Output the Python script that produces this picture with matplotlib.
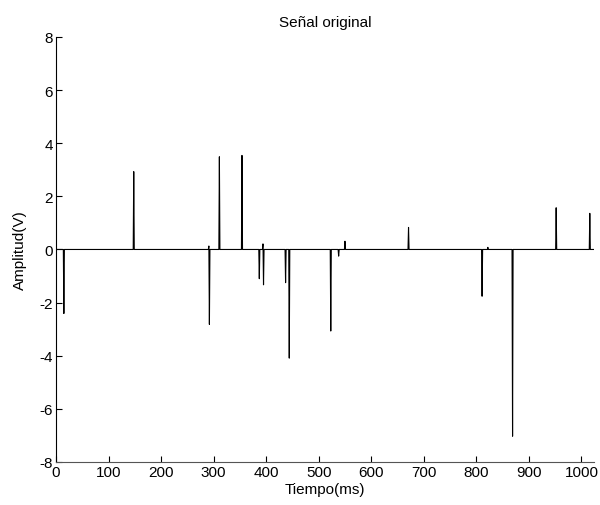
#!/usr/bin/env python3
import numpy as np
import matplotlib.pyplot as plt

plt.rc('font', family=['Liberation Sans', 'DejaVu Sans'], size=11)
plt.rc('axes', unicode_minus=False)

# spike positions (samples / ms) and amplitudes (V)
spike_t = [15, 148, 291, 292, 311, 354, 387, 394, 395, 437, 444,
           523, 538, 550, 671, 811, 822, 869, 952, 1016]
spike_v = [-2.41, 2.93, 0.13, -2.82, 3.49, 3.54, -1.10, 0.21, -1.33, -1.25, -4.09,
           -3.07, -0.25, 0.31, 0.83, -1.76, 0.08, -7.03, 1.57, 1.36]
n_samples = 1024

t = np.arange(n_samples)
sig = np.zeros(n_samples)
sig[spike_t] = spike_v

fig = plt.figure(figsize=(6.0, 5.06), dpi=100)
ax = fig.add_axes([0.0933, 0.085, 0.8967, 0.84])
ax.plot(t, sig, color='k', linewidth=0.8)
ax.set_xlim(0, n_samples)
ax.set_ylim(-8, 8)
ax.set_xticks(np.arange(0, 1001, 100))
ax.set_yticks(np.arange(-8, 9, 2))
ax.tick_params(direction='in', length=4, width=0.8, pad=2)
ax.spines['top'].set_visible(False)
ax.spines['right'].set_visible(False)
ax.spines['left'].set_linewidth(0.8)
ax.spines['bottom'].set_linewidth(0.8)
ax.spines['bottom'].set_color('#555555')
ax.set_title('Señal original', fontsize=11, pad=8)
ax.set_xlabel('Tiempo(ms)', labelpad=2)
ax.set_ylabel('Amplitud(V)', labelpad=9)
plt.savefig('out.png', dpi=100)
plt.close()
